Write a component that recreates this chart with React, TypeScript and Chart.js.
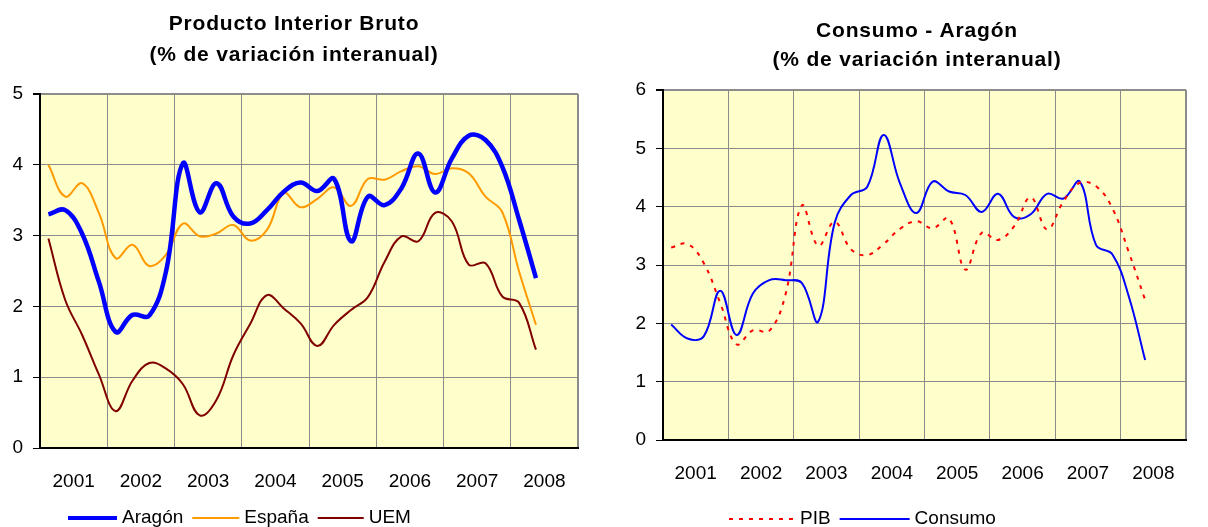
import React, { useEffect, useRef } from 'react';
import { Chart, registerables } from 'chart.js';

Chart.register(...registerables);

const FONT = '"Liberation Sans", Arial, Helvetica, sans-serif';

// Years shown on the category axis (4 quarters each)
const years = ['2001', '2002', '2003', '2004', '2005', '2006', '2007', '2008'];
// Quarterly observations from 2001-T1 to 2008-T2
const quarters = [
  '2001T1', '2001T2', '2001T3', '2001T4',
  '2002T1', '2002T2', '2002T3', '2002T4',
  '2003T1', '2003T2', '2003T3', '2003T4',
  '2004T1', '2004T2', '2004T3', '2004T4',
  '2005T1', '2005T2', '2005T3', '2005T4',
  '2006T1', '2006T2', '2006T3', '2006T4',
  '2007T1', '2007T2', '2007T3', '2007T4',
  '2008T1', '2008T2',
];

const aragon = [3.30, 3.36, 3.03, 2.35, 1.64, 1.88, 1.87, 2.50, 4.02, 3.33, 3.74, 3.27, 3.17, 3.36, 3.62,
  3.75, 3.63, 3.80, 2.92, 3.55, 3.43, 3.67, 4.16, 3.61, 4.09, 4.41, 4.35, 3.97, 3.22, 2.40];
const espana = [4.00, 3.55, 3.74, 3.32, 2.68, 2.87, 2.57, 2.73, 3.17, 2.99, 3.03, 3.15, 2.93, 3.08, 3.60,
  3.40, 3.52, 3.68, 3.42, 3.80, 3.79, 3.91, 3.98, 3.87, 3.95, 3.88, 3.55, 3.33, 2.49, 1.74];
const uem = [2.96, 2.09, 1.60, 1.04, 0.52, 0.95, 1.20, 1.12, 0.90, 0.46, 0.68, 1.31, 1.75, 2.16, 1.97,
  1.76, 1.44, 1.74, 1.95, 2.13, 2.63, 2.99, 2.92, 3.32, 3.20, 2.59, 2.61, 2.14, 2.05, 1.39];
const pib = aragon;
const consumo = [1.98, 1.74, 1.78, 2.56, 1.80, 2.51, 2.74, 2.74, 2.69, 2.03, 3.72, 4.20, 4.34, 5.23, 4.40,
  3.89, 4.43, 4.26, 4.20, 3.91, 4.22, 3.82, 3.87, 4.22, 4.14, 4.43, 3.34, 3.18, 2.46, 1.37];

const leftTicks = [0, 1, 2, 3, 4, 5];
const rightTicks = [0, 1, 2, 3, 4, 5, 6];

const leftTitle = ['Producto Interior Bruto', '(% de variación interanual)'];
const rightTitle = ['Consumo - Aragón', '(% de variación interanual)'];

const toPoints = (vals: number[]) => vals.map((v, i) => ({ x: i, y: v, q: quarters[i] }));

const GRID = '#8c8c8c';

const decorPlugin = {
  id: 'decor',
  beforeDraw(chart: any) {
    const { ctx, chartArea: a } = chart;
    ctx.save();
    ctx.fillStyle = '#FFFFCC';
    ctx.fillRect(a.left, a.top, a.right - a.left, a.bottom - a.top);
    ctx.restore();
  },
  afterDraw(chart: any, _args: any, opts: any) {
    const ctx = chart.ctx;
    ctx.save();
    ctx.fillStyle = '#000';
    ctx.font = `bold 21px ${FONT}`;
    ctx.textAlign = 'center';
    ctx.textBaseline = 'middle';
    (ctx as any).letterSpacing = '0.8px';
    opts.title.forEach((t: string, i: number) => ctx.fillText(t, opts.titleX, opts.titleY[i]));
    (ctx as any).letterSpacing = '0px';

    ctx.font = `19px ${FONT}`;
    ctx.textAlign = 'left';
    let x = opts.legendX;
    const y = opts.legendY;
    chart.data.datasets.forEach((ds: any, i: number) => {
      const len = opts.legendLens[i];
      ctx.strokeStyle = ds.borderColor;
      ctx.lineWidth = opts.legendWidths[i];
      ctx.setLineDash(ds.borderDash || []);
      ctx.beginPath();
      ctx.moveTo(x, y);
      ctx.lineTo(x + len, y);
      ctx.stroke();
      ctx.setLineDash([]);
      x += len + 5;
      ctx.fillText(ds.label, x, y);
      x += ctx.measureText(ds.label).width + 9;
    });
    ctx.restore();
  },
};

function makeOptions(yTicks: number[], yWidth: number, padding: any, decor: any) {
  const yMax = yTicks[yTicks.length - 1];
  const xMin = -0.5;
  const xMax = years.length * 4 - 0.5;
  return {
    responsive: false,
    animation: false,
    devicePixelRatio: 1,
    layout: { padding },
    plugins: {
      legend: { display: false },
      title: { display: false },
      tooltip: { enabled: false },
      decor,
    },
    elements: { point: { radius: 0 } },
    scales: {
      x: {
        type: 'linear',
        min: xMin,
        max: xMax,
        afterBuildTicks: (scale: any) => {
          const t: any[] = [];
          years.forEach((_, j) => {
            t.push({ value: xMin + 4 * j });
            t.push({ value: xMin + 4 * j + 2 });
          });
          t.push({ value: xMax });
          scale.ticks = t;
        },
        afterFit: (scale: any) => { scale.height = 40; },
        ticks: {
          autoSkip: false,
          maxRotation: 0,
          minRotation: 0,
          padding: 22,
          color: '#000',
          font: { size: 19, family: FONT },
          callback: (value: number) => {
            const r = value - xMin;
            if (Math.abs(r % 4 - 2) < 1e-6) return years[Math.floor(r / 4)];
            return '';
          },
        },
        grid: {
          drawTicks: false,
          color: (c: any) => {
            const v = c.tick ? c.tick.value : 0;
            const r = v - xMin;
            if (Math.abs(r % 4) > 1e-6 || Math.abs(r) < 1e-6) return 'rgba(0,0,0,0)';
            return GRID;
          },
          lineWidth: (c: any) => (c.tick && Math.abs(c.tick.value - xMax) < 1e-6 ? 2 : 1),
        },
        border: { display: true, color: '#000', width: 2 },
      },
      y: {
        min: 0,
        max: yMax,
        afterBuildTicks: (scale: any) => { scale.ticks = yTicks.map((v) => ({ value: v })); },
        afterFit: (scale: any) => { scale.width = yWidth; },
        ticks: {
          padding: 10,
          color: '#000',
          font: { size: 19, family: FONT },
          callback: (v: number) => String(v),
        },
        grid: {
          tickLength: 7,
          tickColor: '#000',
          color: (c: any) => (c.tick && c.tick.value === 0 ? 'rgba(0,0,0,0)' : GRID),
          lineWidth: (c: any) => (c.tick && c.tick.value === yMax ? 2 : 1),
        },
        border: { display: true, color: '#000', width: 2 },
      },
    },
  };
}

export default function App() {
  const leftRef = useRef<HTMLCanvasElement>(null);
  const rightRef = useRef<HTMLCanvasElement>(null);

  useEffect(() => {
    Chart.defaults.font.family = FONT;
    const left = new Chart(leftRef.current as HTMLCanvasElement, {
      type: 'line',
      data: {
        datasets: [
          { label: 'Aragón', data: toPoints(aragon), borderColor: '#0000FF', borderWidth: 4.5, tension: 0.4, fill: false },
          { label: 'España', data: toPoints(espana), borderColor: '#FF9900', borderWidth: 2, tension: 0.4, fill: false },
          { label: 'UEM', data: toPoints(uem), borderColor: '#800000', borderWidth: 2, tension: 0.4, fill: false },
        ],
      },
      options: makeOptions(leftTicks, 40, { left: 0, right: 18, top: 94, bottom: 39 }, {
        title: leftTitle, titleX: 294, titleY: [24, 55],
        legendX: 68, legendY: 518, legendLens: [49, 47, 46], legendWidths: [4, 2, 2],
      }) as any,
      plugins: [decorPlugin],
    });
    const right = new Chart(rightRef.current as HTMLCanvasElement, {
      type: 'line',
      data: {
        datasets: [
          { label: 'PIB', data: toPoints(pib), borderColor: '#FF0000', borderWidth: 2, borderDash: [4, 6], tension: 0.4, fill: false },
          { label: 'Consumo', data: toPoints(consumo), borderColor: '#0000FF', borderWidth: 2, tension: 0.4, fill: false },
        ],
      },
      options: makeOptions(rightTicks, 59, { left: 0, right: 1, top: 90, bottom: 47 }, {
        title: rightTitle, titleX: 313, titleY: [31, 60],
        legendX: 125, legendY: 519, legendLens: [66, 70], legendWidths: [2, 2],
      }) as any,
      plugins: [decorPlugin],
    });
    return () => { left.destroy(); right.destroy(); };
  }, []);

  return (
    <div style={{ position: 'absolute', left: 0, top: 0, width: 1208, height: 527, background: '#fff' }}>
      <canvas ref={leftRef} width={600} height={527} style={{ position: 'absolute', left: 0, top: 0, width: 600, height: 527 }} />
      <canvas ref={rightRef} width={604} height={527} style={{ position: 'absolute', left: 604, top: 0, width: 604, height: 527 }} />
    </div>
  );
}
